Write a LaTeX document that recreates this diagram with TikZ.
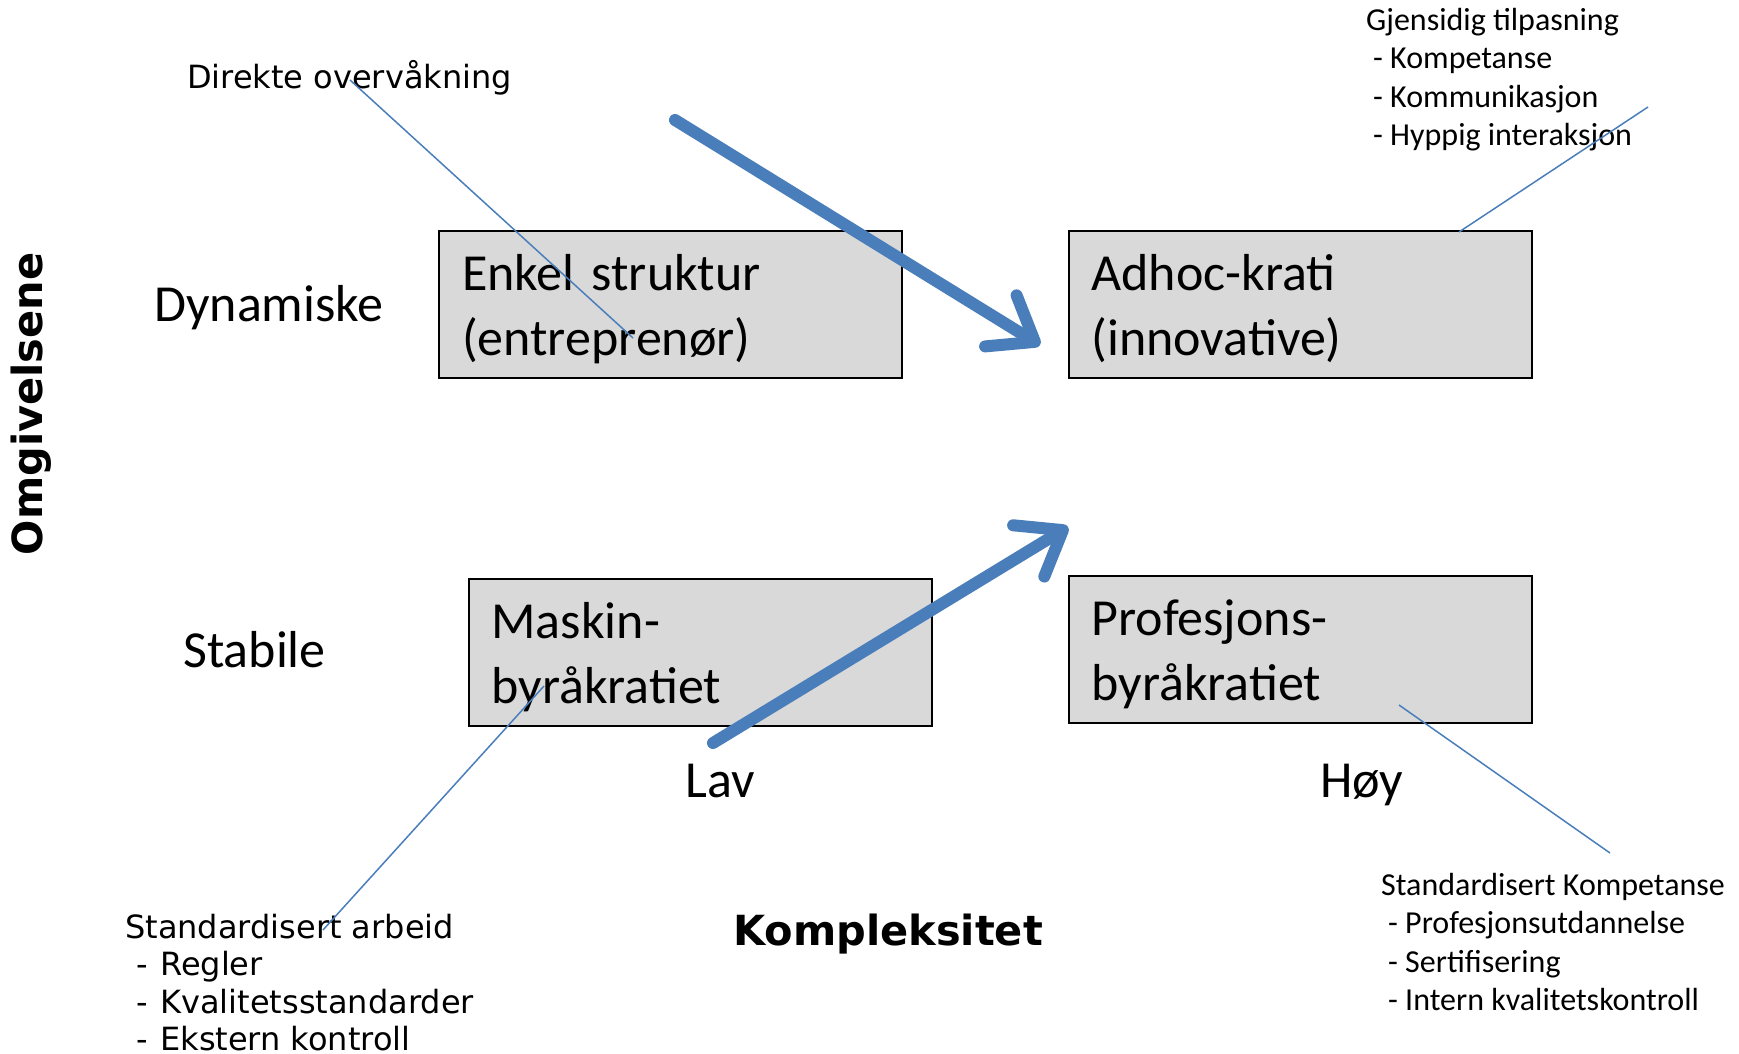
\documentclass[tikz,border=0pt]{standalone}
\usepackage{fontspec}
\setmainfont{Carlito}
\newfontfamily\verdfont{DejaVu Sans}
\usetikzlibrary{arrows.meta}
\definecolor{boxgray}{RGB}{217,217,217}
\definecolor{arrowblue}{RGB}{74,126,187}
\newcommand{\topstrut}{\rule{0pt}{57pt}}

\begin{document}
\begin{tikzpicture}[x=1pt, y=-1pt,
  orgbox/.style={rectangle, draw=black, line width=2pt, fill=boxgray, minimum width=463pt, minimum height=147pt, inner xsep=23pt, inner ysep=0pt, text width=417pt, align=left, font=\fontsize{52}{65}\selectfont},
  axislabel/.style={inner sep=0pt, anchor=base west, font=\fontsize{52}{62}\selectfont},
  notetext/.style={inner sep=0pt, anchor=north west, align=left, font=\fontsize{32}{38.5}\selectfont},
  verdtext/.style={inner sep=0pt, anchor=north west, align=left, font=\verdfont\fontsize{32}{37.5}\selectfont},
  axistitle/.style={inner sep=0pt, font=\verdfont\bfseries\fontsize{41.5}{49}\selectfont},
  leader/.style={draw=arrowblue, line width=1.5pt},
  bigarrow/.style={draw=arrowblue, line width=12pt, line cap=round, -{Straight Barb[round, length=40pt, width=60pt]}}]
\useasboundingbox (0,0) rectangle (1739,1053);

\node[orgbox] (enkel) at (670.5,304.5) {\topstrut Enkel struktur\\(entreprenør)\strut};
\node[orgbox] (adhoc) at (1300,304.5) {\topstrut Adhoc-krati\\(innovative)\strut};
\node[orgbox] (maskin) at (700,652) {\topstrut Maskin-\\byråkratiet\strut};
\node[orgbox] (profesjon) at (1300,649) {\topstrut Profesjons-\\byråkratiet\strut};

\node[axislabel] (dynamiske) at (154,321) {Dynamiske};
\node[axislabel] (stabile) at (183,667) {Stabile};
\node[axislabel] (lav) at (685,797) {Lav};
\node[axislabel] (hoy) at (1320,797) {Høy};
\node[axistitle, anchor=base west] (kompleksitet) at (733,945) {Kompleksitet};
\node[axistitle, rotate=90] (omgivelsene) at (31,404) {Omgivelsene};

\node[verdtext, anchor=base west] (direkte) at (187,88) {Direkte overvåkning};
\node[verdtext] (arbeid) at (125,911.75) {\strut Standardisert arbeid\\
  \hspace*{11.5pt}-\hspace{12pt}Regler\\
  \hspace*{11.5pt}-\hspace{12pt}Kvalitetsstandarder\\
  \hspace*{11.5pt}-\hspace{12pt}Ekstern kontroll};
\node[notetext] (gjensidig) at (1366,3) {\strut Gjensidig tilpasning\\
  \hspace*{7pt}- Kompetanse\\
  \hspace*{7pt}- Kommunikasjon\\
  \hspace*{7pt}- Hyppig interaksjon};
\node[notetext] (kompetanse) at (1381,868) {\strut Standardisert Kompetanse\\
  \hspace*{7pt}- Profesjonsutdannelse\\
  \hspace*{7pt}- Sertifisering\\
  \hspace*{7pt}- Intern kvalitetskontroll};

% leader lines
\coordinate (direkte-end) at (350,80);
\coordinate (enkel-end) at (633,338);
\coordinate (gjensidig-end) at (1648,107);
\coordinate (adhoc-end) at (1459,232);
\coordinate (arbeid-end) at (323,930);
\coordinate (maskin-end) at (544,686);
\coordinate (profesjon-end) at (1399,705);
\coordinate (kompetanse-end) at (1610,853);
\draw[leader] (direkte-end) -- (enkel-end);
\draw[leader] (gjensidig-end) -- (adhoc-end);
\draw[leader] (arbeid-end) -- (maskin-end);
\draw[leader] (profesjon-end) -- (kompetanse-end);

% arrows
\coordinate (top-start) at (675,120);
\coordinate (top-tip) at (1040,345);
\coordinate (low-start) at (713,743);
\coordinate (low-tip) at (1068,527);
\draw[bigarrow] (top-start) -- (top-tip);
\draw[bigarrow] (low-start) -- (low-tip);
\end{tikzpicture}
\end{document}
